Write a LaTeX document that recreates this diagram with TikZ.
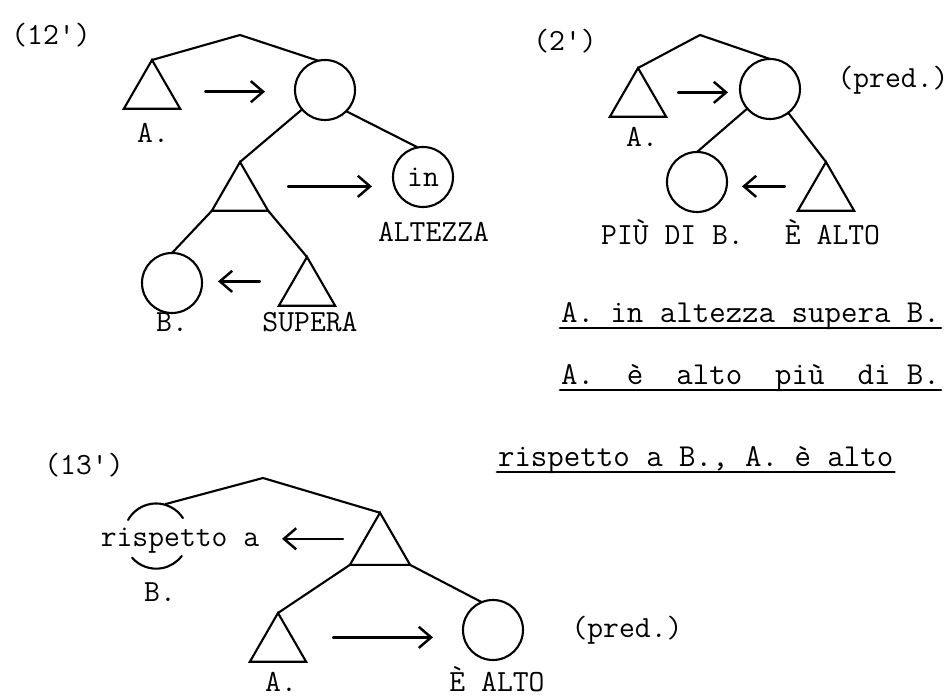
\documentclass[tikz,border=0pt]{standalone}
\usepackage{fontspec}
\usepackage{tikz}
\usetikzlibrary{calc,arrows.meta,shapes.geometric}

\newcommand{\typed}{\fontsize{17.5}{21}\selectfont\ttfamily}
\newcommand{\typedbig}{\fontsize{18.2}{22}\selectfont\ttfamily}

\begin{document}
\begin{tikzpicture}
[line width=1.2pt, line cap=round,
 tri/.style={regular polygon, regular polygon sides=3, draw,
             minimum size=1.3cm, inner sep=0pt, outer sep=0pt},
 circ/.style={circle, draw, minimum size=1.2cm, inner sep=0pt,
              outer sep=0pt, font=\typed},
 lbl/.style={font=\typed, inner sep=1pt, anchor=base},
 sent/.style={font=\typedbig, inner sep=0pt, anchor=base west},
 arr/.style={-{Straight Barb[length=7pt,width=12pt]}, line width=1.4pt},
 uline/.style={line width=1.6pt}]
\useasboundingbox (0,0) rectangle (19.04,14);

% (12')
\node (l12) at (1.02,13.10)[lbl] {(12')};
\coordinate (r12) at (4.80,13.30);
\node (a12) at (3.04,12.15)[tri] {};
\node (c12) at (6.50,12.20)[circ] {};
\node (t12) at (4.80,10.11)[tri] {};
\node (in12) at (8.46,10.46)[circ] {in};
\node (b12) at (3.44,8.34)[circ] {};
\node (s12) at (6.14,8.21)[tri] {};
\node (la12) at (3.06,11.14)[lbl] {A.};
\node (alt12) at (8.67,9.16)[lbl] {ALTEZZA};
\node (lb12) at (3.44,7.36)[lbl] {B.};
\node (sup12) at (6.20,7.36)[lbl] {SUPERA};

\draw (r12) -- (a12.corner 1);
\draw (r12) -- (c12.103);
\draw (c12) -- (t12.corner 1);
\draw (c12.-45) -- (in12.100);
\draw (t12.corner 2) -- (b12.north);
\draw (t12.corner 3) -- (s12.corner 1);

\coordinate (a12r) at ($(a12.corner 1)!.65!(a12.corner 3)$);
\coordinate (t12r) at ($(t12.corner 1)!.5!(t12.corner 3)$);
\coordinate (s12l) at ($(s12.corner 1)!.5!(s12.corner 2)$);
\draw[arr, shorten <=0.7cm, shorten >=0.6cm] (a12r) -- (a12r -| c12.west);
\draw[arr, shorten <=0.68cm, shorten >=0.42cm] (t12r) -- (t12r -| in12.west);
\draw[arr, shorten <=0.66cm, shorten >=0.32cm] (s12l) -- (s12l -| b12.east);

% (2')
\node (l2) at (11.30,12.98)[lbl] {(2')};
\coordinate (r2) at (14.00,13.30);
\node (a2) at (12.76,11.99)[tri] {};
\node (c2) at (15.40,12.22)[circ] {};
\node (b2) at (13.94,10.36)[circ] {};
\node (e2) at (16.52,10.11)[tri] {};
\node (la2) at (12.84,11.06)[lbl] {A.};
\node (pr2) at (17.86,12.24)[lbl] {(pred.)};
\node (pb2) at (13.45,9.10)[lbl] {PIÙ DI B.};
\node (ea2) at (16.65,9.10)[lbl] {È ALTO};

\draw (r2) -- (a2.corner 1);
\draw (r2) -- (c2.north);
\draw (c2) -- (b2.north);
\draw (c2) -- (e2.corner 1);

\coordinate (a2r) at ($(a2.corner 1)!.5!(a2.corner 3)$);
\coordinate (e2l) at ($(e2.corner 1)!.5!(e2.corner 2)$);
\draw[arr, shorten <=0.52cm, shorten >=0.24cm] (a2r) -- (a2r -| c2.west);
\draw[arr, shorten <=0.54cm, shorten >=0.3cm] (e2l) -- (e2l -| b2.east);

% paraphrases
\node (s1) at (11.20,7.54)[sent] {A. in altezza supera B.};
\node (s2) at (11.20,6.30)[sent] {A.~ è~ alto~ più~ di B.};
\node (s3) at (9.94,4.66)[sent] {rispetto a B., A. è alto};
\foreach \s in {s1,s2,s3}
  \draw[uline] ([yshift=-1mm]\s.base west) -- ([yshift=-1mm]\s.base east);

% (13')
\node (l13) at (1.68,4.50)[lbl] {(13')};
\coordinate (r13) at (5.26,4.44);
\node (rb) at (3.14,3.28)[circle, minimum size=1.28cm, inner sep=0pt] {};
\node (rs) at (3.60,3.06)[lbl] {rispetto a};
\node (lb13) at (3.20,1.96)[lbl] {B.};
\node (t13) at (7.60,3.05)[tri, minimum size=1.39cm] {};
\node (a13) at (5.56,1.09)[tri] {};
\node (e13) at (9.86,1.40)[circ] {};
\node (la13) at (5.62,0.16)[lbl] {A.};
\node (ea13) at (9.94,0.16)[lbl] {È ALTO};
\node (pr13) at (12.54,1.24)[lbl] {(pred.)};

\draw (rb.151) arc[start angle=151, end angle=33, radius=0.64cm];
\draw (rb.-139) arc[start angle=-139, end angle=-37, radius=0.64cm];
\draw (r13) -- (rb.75);
\draw (r13) -- (t13.corner 1);
\draw (t13.corner 2) -- (a13.corner 1);
\draw (t13.corner 3) -- (e13.112);

\coordinate (t13l) at ($(t13.corner 1)!.5!(t13.corner 2)$);
\coordinate (a13r) at ($(a13.corner 1)!.5!(a13.corner 3)$);
\draw[arr, shorten <=0.44cm, shorten >=0.4cm] (t13l) -- (t13l -| rs.east);
\draw[arr, shorten <=0.82cm, shorten >=0.6cm] (a13r) -- (a13r -| e13.west);

\end{tikzpicture}
\end{document}
